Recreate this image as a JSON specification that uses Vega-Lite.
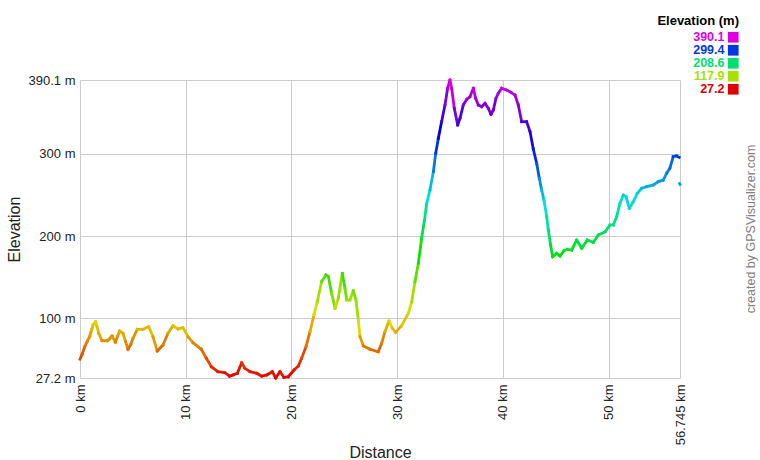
{
  "$schema": "https://vega.github.io/schema/vega-lite/v6.json",
  "width": 600,
  "height": 298,
  "autosize": {"type": "none"},
  "padding": {"left": 80, "top": 80, "right": 80, "bottom": 82},
  "background": "white",
  "config": {"view": {"stroke": null}, "font": "Liberation Sans"},
  "title": {
    "text": "created by GPSVisualizer.com", "orient": "right", "anchor": "middle", "angle": -90,
    "fontSize": 12.5, "fontWeight": "normal", "color": "#808080", "font": "Liberation Sans", "offset": -7
  },
  "data": {
    "values": [
      {"d": 0.0, "e": 50, "s": 1}, {"d": 0.2, "e": 56, "s": 1}, {"d": 0.44, "e": 65, "s": 1}, {"d": 0.7, "e": 72, "s": 1},
      {"d": 0.91, "e": 77.5, "s": 1}, {"d": 1.1, "e": 86, "s": 1}, {"d": 1.23, "e": 91.7, "s": 1}, {"d": 1.48, "e": 95.8, "s": 1},
      {"d": 1.6, "e": 90, "s": 1}, {"d": 1.77, "e": 81.6, "s": 1}, {"d": 2.08, "e": 72.6, "s": 1}, {"d": 2.58, "e": 72.6, "s": 1},
      {"d": 2.8, "e": 75, "s": 1}, {"d": 3.03, "e": 78.4, "s": 1}, {"d": 3.34, "e": 70.7, "s": 1}, {"d": 3.55, "e": 78, "s": 1},
      {"d": 3.75, "e": 84.4, "s": 1}, {"d": 4.07, "e": 81.6, "s": 1}, {"d": 4.3, "e": 72, "s": 1}, {"d": 4.54, "e": 62.2, "s": 1},
      {"d": 4.8, "e": 68, "s": 1}, {"d": 5.01, "e": 75.5, "s": 1}, {"d": 5.42, "e": 86.5, "s": 1}, {"d": 5.96, "e": 86.5, "s": 1},
      {"d": 6.49, "e": 89.7, "s": 1}, {"d": 6.9, "e": 77.5, "s": 1}, {"d": 7.31, "e": 60.1, "s": 1}, {"d": 7.85, "e": 67.4, "s": 1},
      {"d": 8.32, "e": 81.6, "s": 1}, {"d": 8.8, "e": 90.9, "s": 1}, {"d": 9.27, "e": 86.9, "s": 1}, {"d": 9.74, "e": 88.5, "s": 1},
      {"d": 10.21, "e": 77.5, "s": 1}, {"d": 10.69, "e": 70.2, "s": 1}, {"d": 11.47, "e": 62.2, "s": 1}, {"d": 11.95, "e": 51.2, "s": 1},
      {"d": 12.42, "e": 41, "s": 1}, {"d": 13.05, "e": 34.9, "s": 1}, {"d": 13.68, "e": 33.7, "s": 1}, {"d": 14.15, "e": 29.5, "s": 1},
      {"d": 14.5, "e": 31, "s": 1}, {"d": 14.88, "e": 32.9, "s": 1}, {"d": 15.29, "e": 45.8, "s": 1}, {"d": 15.6, "e": 39, "s": 1},
      {"d": 16.08, "e": 34.9, "s": 1}, {"d": 16.71, "e": 32.9, "s": 1}, {"d": 17.18, "e": 29.6, "s": 1}, {"d": 17.66, "e": 30.9, "s": 1},
      {"d": 18.19, "e": 34.9, "s": 1}, {"d": 18.5, "e": 27.2, "s": 1}, {"d": 18.91, "e": 34.9, "s": 1}, {"d": 19.29, "e": 28, "s": 1},
      {"d": 19.7, "e": 28.8, "s": 1}, {"d": 20.24, "e": 36.9, "s": 1}, {"d": 20.65, "e": 41.8, "s": 1}, {"d": 20.96, "e": 51.2, "s": 1},
      {"d": 21.37, "e": 65.3, "s": 1}, {"d": 21.75, "e": 83.6, "s": 1}, {"d": 22.13, "e": 103.9, "s": 1}, {"d": 22.44, "e": 120.1, "s": 1},
      {"d": 22.85, "e": 144.5, "s": 1}, {"d": 23.26, "e": 152.7, "s": 1}, {"d": 23.49, "e": 150.6, "s": 1}, {"d": 23.8, "e": 130.4, "s": 1},
      {"d": 24.12, "e": 112.1, "s": 1}, {"d": 24.43, "e": 124.3, "s": 1}, {"d": 24.81, "e": 154.7, "s": 1}, {"d": 25.06, "e": 136.5, "s": 1},
      {"d": 25.22, "e": 122.2, "s": 1}, {"d": 25.53, "e": 122.2, "s": 1}, {"d": 25.85, "e": 133.5, "s": 1}, {"d": 26.1, "e": 122.2, "s": 1},
      {"d": 26.32, "e": 97.8, "s": 1}, {"d": 26.48, "e": 77.5, "s": 1}, {"d": 26.8, "e": 66.2, "s": 1}, {"d": 27.43, "e": 62.2, "s": 1},
      {"d": 28.21, "e": 59.2, "s": 1}, {"d": 28.53, "e": 69.5, "s": 1}, {"d": 28.84, "e": 83.6, "s": 1}, {"d": 29.22, "e": 96.6, "s": 1},
      {"d": 29.54, "e": 87.7, "s": 1}, {"d": 29.85, "e": 82.8, "s": 1}, {"d": 30.42, "e": 90.9, "s": 1}, {"d": 31.05, "e": 106, "s": 1},
      {"d": 31.37, "e": 120.1, "s": 1}, {"d": 31.68, "e": 144.5, "s": 1}, {"d": 32.0, "e": 166.9, "s": 1}, {"d": 32.31, "e": 197.4, "s": 1},
      {"d": 32.56, "e": 217.6, "s": 1}, {"d": 32.79, "e": 240, "s": 1}, {"d": 33.1, "e": 256.2, "s": 1}, {"d": 33.42, "e": 278.5, "s": 1},
      {"d": 33.64, "e": 300.8, "s": 1}, {"d": 33.89, "e": 319.1, "s": 1}, {"d": 34.2, "e": 339.3, "s": 1}, {"d": 34.52, "e": 359.7, "s": 1},
      {"d": 34.77, "e": 380, "s": 1}, {"d": 34.99, "e": 390.1, "s": 1}, {"d": 35.15, "e": 380, "s": 1}, {"d": 35.4, "e": 355.6, "s": 1},
      {"d": 35.72, "e": 335.3, "s": 1}, {"d": 35.94, "e": 343.5, "s": 1}, {"d": 36.25, "e": 359.7, "s": 1}, {"d": 36.57, "e": 366.6, "s": 1},
      {"d": 36.88, "e": 369.8, "s": 1}, {"d": 37.2, "e": 380, "s": 1}, {"d": 37.42, "e": 367.8, "s": 1}, {"d": 37.67, "e": 359.7, "s": 1},
      {"d": 37.99, "e": 357.6, "s": 1}, {"d": 38.3, "e": 361.7, "s": 1}, {"d": 38.62, "e": 355.6, "s": 1}, {"d": 38.87, "e": 348.3, "s": 1},
      {"d": 39.09, "e": 353.6, "s": 1}, {"d": 39.34, "e": 367.8, "s": 1}, {"d": 39.56, "e": 373.9, "s": 1}, {"d": 39.88, "e": 380, "s": 1},
      {"d": 40.35, "e": 377.9, "s": 1}, {"d": 40.76, "e": 375.1, "s": 1}, {"d": 41.14, "e": 371.8, "s": 1}, {"d": 41.45, "e": 359.7, "s": 1},
      {"d": 41.77, "e": 339.3, "s": 1}, {"d": 42.24, "e": 339.3, "s": 1}, {"d": 42.56, "e": 327.1, "s": 1}, {"d": 42.87, "e": 306, "s": 1},
      {"d": 43.19, "e": 288.6, "s": 1}, {"d": 43.44, "e": 270.3, "s": 1}, {"d": 43.66, "e": 256.1, "s": 1}, {"d": 43.88, "e": 243.9, "s": 1},
      {"d": 44.14, "e": 223.6, "s": 1}, {"d": 44.29, "e": 207.4, "s": 1}, {"d": 44.51, "e": 189.1, "s": 1}, {"d": 44.7, "e": 174.9, "s": 1},
      {"d": 45.08, "e": 179, "s": 1}, {"d": 45.39, "e": 175.7, "s": 1}, {"d": 45.77, "e": 182.2, "s": 1}, {"d": 46.09, "e": 183.9, "s": 1},
      {"d": 46.5, "e": 183, "s": 1}, {"d": 46.97, "e": 195.2, "s": 1}, {"d": 47.45, "e": 185.1, "s": 1}, {"d": 47.98, "e": 195.2, "s": 1},
      {"d": 48.55, "e": 192.4, "s": 1}, {"d": 49.02, "e": 201.3, "s": 1}, {"d": 49.65, "e": 205.3, "s": 1}, {"d": 50.12, "e": 213.5, "s": 1},
      {"d": 50.44, "e": 213.5, "s": 1}, {"d": 50.75, "e": 223.6, "s": 1}, {"d": 51.07, "e": 239.9, "s": 1}, {"d": 51.38, "e": 250, "s": 1},
      {"d": 51.64, "e": 248, "s": 1}, {"d": 51.95, "e": 233.8, "s": 1}, {"d": 52.33, "e": 241.9, "s": 1}, {"d": 52.71, "e": 252.1, "s": 1},
      {"d": 53.12, "e": 258.2, "s": 1}, {"d": 53.59, "e": 260.2, "s": 1}, {"d": 54.22, "e": 262.3, "s": 1}, {"d": 54.69, "e": 266.3, "s": 1},
      {"d": 55.16, "e": 268.3, "s": 1}, {"d": 55.48, "e": 276.5, "s": 1}, {"d": 55.79, "e": 282.6, "s": 1}, {"d": 56.1, "e": 296.7, "s": 1},
      {"d": 56.42, "e": 297.6, "s": 1}, {"d": 56.67, "e": 296, "s": 1},
      {"d": 56.7, "e": 264, "s": 2}, {"d": 56.745, "e": 263, "s": 2}
    ]
  },
  "transform": [
    {"window": [{"op": "lead", "field": "d", "as": "d2"}, {"op": "lead", "field": "e", "as": "e2"}], "groupby": ["s"], "sort": [{"field": "d"}]},
    {"filter": "datum.d2 != null"}
  ],
  "mark": {"type": "rule", "strokeWidth": 2.8, "strokeCap": "square"},
  "encoding": {
    "x": {
      "field": "d", "type": "quantitative",
      "scale": {"domain": [0, 56.745], "nice": false, "zero": false},
      "axis": {
        "title": "Distance", "values": [0, 10, 20, 30, 40, 50, 56.745],
        "labelExpr": "datum.value + ' km'", "labelAngle": -90, "labelPadding": 6,
        "labelFontSize": 13, "labelColor": "#222", "labelFont": "Liberation Sans",
        "ticks": false, "domain": false, "grid": true, "gridColor": "#cccccc", "gridWidth": 1,
        "titleFontSize": 16, "titleFontWeight": "normal", "titleColor": "#222", "titleFont": "Liberation Sans",
        "titleBaseline": "alphabetic", "titleY": 79
      }
    },
    "y": {
      "field": "e", "type": "quantitative",
      "scale": {"domain": [27.2, 390.1], "nice": false, "zero": false},
      "axis": {
        "title": "Elevation", "values": [27.2, 100, 200, 300, 390.1],
        "labelExpr": "datum.value + ' m'", "labelPadding": 5,
        "labelFontSize": 13, "labelColor": "#222", "labelFont": "Liberation Sans",
        "ticks": false, "domain": false, "grid": true, "gridColor": "#cccccc", "gridWidth": 1,
        "titleFontSize": 16, "titleFontWeight": "normal", "titleColor": "#222", "titleFont": "Liberation Sans",
        "titlePadding": 6
      }
    },
    "x2": {"field": "d2"},
    "y2": {"field": "e2"},
    "color": {
      "field": "e", "type": "quantitative",
      "scale": {
        "domain": [27.2, 63.49, 99.78, 136.07, 172.36, 208.65, 244.94, 281.23, 317.52, 353.81, 390.1],
        "range": ["#e00000", "#e07000", "#e0e000", "#70e000", "#00e000", "#00e070", "#00e0e0", "#0070e0", "#0000e0", "#7000e0", "#e000e0"],
        "interpolate": "rgb"
      },
      "legend": {
        "type": "symbol",
        "values": [390.1, 299.4, 208.6, 117.9, 27.2],
        "format": ".1f",
        "title": "Elevation (m)",
        "orient": "none", "legendX": 577, "legendY": -65,
        "titleFont": "Liberation Sans", "titleFontSize": 13, "titleFontWeight": "bold", "titleColor": "#000",
        "titleAnchor": "end", "titleAlign": "right", "titlePadding": 3,
        "labelFont": "Liberation Sans", "labelFontSize": 12.5, "labelFontWeight": "bold",
        "labelAlign": "right", "labelOffset": -15,
        "symbolType": "square", "symbolSize": 115, "symbolStrokeWidth": 0,
        "rowPadding": 0,
        "encode": {
          "labels": {"update": {"fill": {"scale": "color", "field": "value"}}},
          "symbols": {"update": {"fill": {"scale": "color", "field": "value"}, "fillOpacity": {"value": 1}, "stroke": {"value": "transparent"}}}
        }
      }
    }
  }
}
